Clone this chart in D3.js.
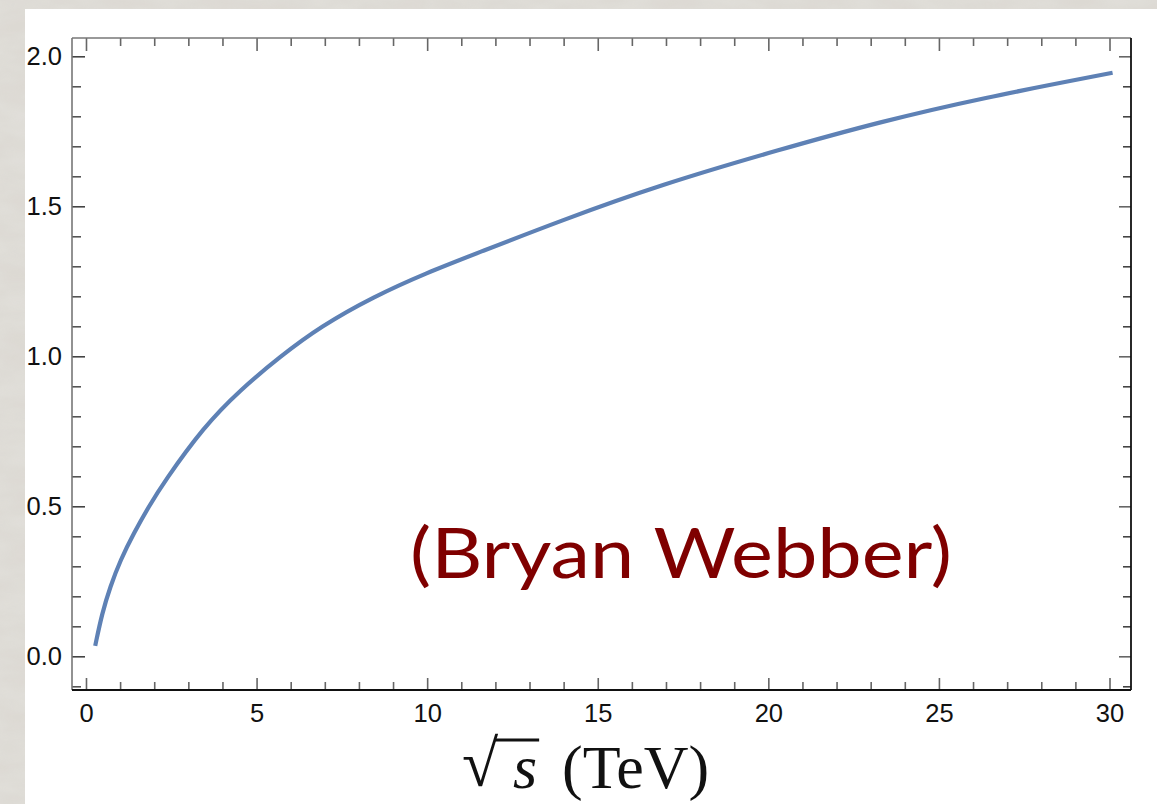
<!DOCTYPE html>
<html>
<head>
<meta charset="utf-8">
<script src="https://cdn.jsdelivr.net/npm/d3@7/dist/d3.min.js"></script>
<style>
  html, body { margin: 0; padding: 0; background: #d8d5cf; }
  svg { display: block; }
</style>
</head>
<body>
<svg id="chart" width="1157" height="804"></svg>
<script>
// ---- data ----
const sqrtS  = [0.27, 0.47, 0.71, 1.01, 1.40, 1.84, 2.28, 3.45, 4.52, 5.70, 6.87, 8.43, 10.0, 11.47, 13.91, 16.84, 20.36, 23.29, 26.22, 30.09];
const values = [0.035, 0.143, 0.232, 0.321, 0.41, 0.499, 0.58, 0.765, 0.888, 1.0, 1.099, 1.199, 1.279, 1.344, 1.452, 1.572, 1.69, 1.782, 1.86, 1.945];
const xMajorTicks = [0, 5, 10, 15, 20, 25, 30];
const xMinorTicks = d3.range(0, 31, 1).filter(v => v % 5 !== 0);
const yMajorTicks = [0, 0.5, 1.0, 1.5, 2.0];
const yMinorTicks = d3.range(-1, 21, 1).map(v => v / 10).filter(v => Math.round(v * 10) % 5 !== 0);
const annotation = "(Bryan Webber)";

const W = 1157, H = 804;
const svg = d3.select("#chart");

// background texture
const defs = svg.append("defs");
const f = defs.append("filter").attr("id", "stone").attr("x", 0).attr("y", 0).attr("width", "100%").attr("height", "100%");
f.append("feTurbulence").attr("type", "fractalNoise").attr("baseFrequency", "0.02 0.05").attr("numOctaves", 3).attr("seed", 3).attr("result", "n");
f.append("feColorMatrix").attr("in", "n").attr("type", "matrix")
  .attr("values", "0 0 0 0 0.80  0 0 0 0 0.79  0 0 0 0 0.76  0 0 0 -1.1 0.9").attr("result", "c");
svg.append("rect").attr("width", W).attr("height", H).attr("fill", "#dcd9d3");
svg.append("rect").attr("width", W).attr("height", H).attr("filter", "url(#stone)").attr("opacity", 0.6);

// white panel
svg.append("rect").attr("x", 25).attr("y", 9).attr("width", W - 25).attr("height", H - 9).attr("fill", "#ffffff");

const L = 72, R = 1131, T = 38, B = 690;
const x = d3.scaleLinear().domain([-0.41, 30.63]).range([L, R]);
const y = d3.scaleLinear().domain([-0.1123, 2.061]).range([B, T]);

const tickColor = "#666";
const labelFont = "'Liberation Sans', Arial, sans-serif";

function styleAxis(g, color) {
  g.select(".domain").remove();
  g.selectAll(".tick line").attr("stroke", color).attr("stroke-width", 1.6);
  g.selectAll(".tick text").attr("fill", "#111").style("font-family", labelFont).style("font-size", "25.5px");
}

// bottom
const gb = svg.append("g").attr("transform", `translate(0,${B})`);
gb.call(d3.axisBottom(x).tickValues(xMajorTicks).tickFormat(d3.format("d")).tickSizeInner(-12).tickSizeOuter(0).tickPadding(14));
styleAxis(gb, tickColor);
const gbm = svg.append("g").attr("transform", `translate(0,${B})`);
gbm.call(d3.axisBottom(x).tickValues(xMinorTicks).tickFormat("").tickSizeInner(-8).tickSizeOuter(0));
styleAxis(gbm, tickColor);

// top
const gt = svg.append("g").attr("transform", `translate(0,${T})`);
gt.call(d3.axisTop(x).tickValues(xMajorTicks).tickFormat("").tickSizeInner(-13).tickSizeOuter(0));
styleAxis(gt, tickColor);
const gtm = svg.append("g").attr("transform", `translate(0,${T})`);
gtm.call(d3.axisTop(x).tickValues(xMinorTicks).tickFormat("").tickSizeInner(-8).tickSizeOuter(0));
styleAxis(gtm, tickColor);

// left
const gl = svg.append("g").attr("transform", `translate(${L},0)`);
gl.call(d3.axisLeft(y).tickValues(yMajorTicks).tickFormat(d3.format(".1f")).tickSizeInner(-13).tickSizeOuter(0).tickPadding(10));
styleAxis(gl, "#444");
const glm = svg.append("g").attr("transform", `translate(${L},0)`);
glm.call(d3.axisLeft(y).tickValues(yMinorTicks).tickFormat("").tickSizeInner(-9).tickSizeOuter(0));
styleAxis(glm, "#555");

// right
const gr = svg.append("g").attr("transform", `translate(${R},0)`);
gr.call(d3.axisRight(y).tickValues(yMajorTicks).tickFormat("").tickSizeInner(-12).tickSizeOuter(0));
styleAxis(gr, tickColor);
const grm = svg.append("g").attr("transform", `translate(${R},0)`);
grm.call(d3.axisRight(y).tickValues(yMinorTicks).tickFormat("").tickSizeInner(-8).tickSizeOuter(0));
styleAxis(grm, "#444");

// frame
svg.append("line").attr("x1", L).attr("x2", R).attr("y1", T).attr("y2", T).attr("stroke", "#777").attr("stroke-width", 1.6);
svg.append("line").attr("x1", L).attr("x2", L).attr("y1", T).attr("y2", B).attr("stroke", "#777").attr("stroke-width", 1.6);
svg.append("line").attr("x1", R).attr("x2", R).attr("y1", T).attr("y2", B).attr("stroke", "#111").attr("stroke-width", 1.8);
svg.append("line").attr("x1", L).attr("x2", R).attr("y1", B).attr("y2", B).attr("stroke", "#111").attr("stroke-width", 1.8);

// curve
const line = d3.line().x((d, i) => x(sqrtS[i])).y(d => y(d)).curve(d3.curveBasis);
svg.append("path").datum(values).attr("d", line)
  .attr("fill", "none").attr("stroke", "#5e81b5").attr("stroke-width", 4.2);

// annotation
svg.append("text").attr("x", 410).attr("y", 578)
  .attr("textLength", 542).attr("lengthAdjust", "spacingAndGlyphs")
  .style("font-family", "Lato, 'Open Sans', sans-serif").style("font-size", "70px")
  .attr("fill", "#7f0000").text(annotation);

// x axis title: sqrt(s) (TeV)
const serif = "'Liberation Serif', 'DejaVu Serif', serif";
const tg = svg.append("g");
const rad = tg.append("text").attr("x", 462).attr("y", 786)
  .style("font-family", serif).style("font-size", "66px").attr("fill", "#111").text("√");
const sTxt = tg.append("text").attr("x", 513).attr("y", 788)
  .style("font-family", serif).style("font-style", "italic").style("font-size", "62px").attr("fill", "#111").text("s");
tg.append("text").attr("x", 562).attr("y", 788)
  .style("font-family", serif).style("font-size", "62px").attr("fill", "#111").text("(TeV)");
const rb = rad.node().getBBox();
const sb = sTxt.node().getBBox();
tg.append("line").attr("x1", rb.x + rb.width - 4).attr("x2", sb.x + sb.width + 2)
  .attr("y1", 740).attr("y2", 740).attr("stroke", "#111").attr("stroke-width", 3);
</script>
</body>
</html>
